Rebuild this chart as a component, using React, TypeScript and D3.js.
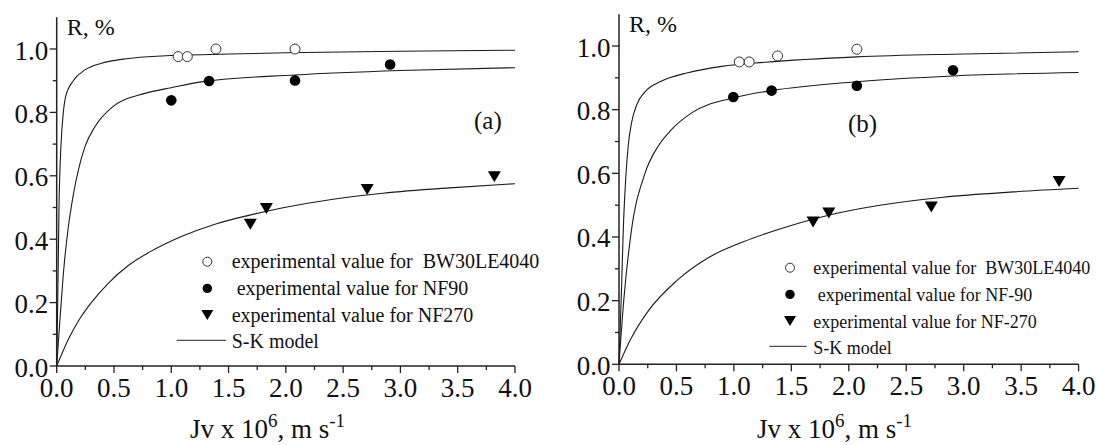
import React from "react";
import * as d3 from "d3";

// ---------- data ----------
const xMajorTicks = [0, 0.5, 1.0, 1.5, 2.0, 2.5, 3.0, 3.5, 4.0];
const xMinorTicks = [0.25, 0.75, 1.25, 1.75, 2.25, 2.75, 3.25, 3.75];
const xTickLabels = ["0.0", "0.5", "1.0", "1.5", "2.0", "2.5", "3.0", "3.5", "4.0"];
const yMajorTicks = [0, 0.2, 0.4, 0.6, 0.8, 1.0];
const yMinorTicks = [0.1, 0.3, 0.5, 0.7, 0.9];
const yTickLabels = ["0.0", "0.2", "0.4", "0.6", "0.8", "1.0"];

// Panel (a) experimental values
const bwA_x = [1.06, 1.14, 1.39, 2.08];
const bwA_y = [0.976, 0.976, 1.0, 1.0];
const nf90A_x = [1.0, 1.33, 2.08, 2.91];
const nf90A_y = [0.838, 0.899, 0.901, 0.951];
const nf270A_x = [1.69, 1.83, 2.71, 3.82];
const nf270A_y = [0.447, 0.497, 0.557, 0.597];

// Panel (a) S-K model curves
const skBwA_x = [0, 0.009, 0.02, 0.038, 0.058, 0.078, 0.145, 0.247, 0.39, 0.625, 0.916, 1.5, 2.0, 3.0, 4.0];
const skBwA_y = [0, 0.2, 0.5, 0.7, 0.8, 0.85, 0.9, 0.934, 0.955, 0.97, 0.978, 0.984, 0.988, 0.993, 0.996];
const sk90A_x = [0, 0.029, 0.058, 0.102, 0.145, 0.189, 0.247, 0.334, 0.48, 0.77, 1.0, 1.29, 2.08, 3.0, 4.0];
const sk90A_y = [0, 0.15, 0.29, 0.44, 0.54, 0.618, 0.692, 0.755, 0.815, 0.86, 0.878, 0.898, 0.918, 0.932, 0.941];
const sk270A_x = [0, 0.1, 0.2, 0.3, 0.45, 0.625, 0.813, 1.104, 1.395, 1.685, 1.976, 2.412, 2.848, 3.43, 4.0];
const sk270A_y = [0, 0.083, 0.148, 0.199, 0.261, 0.317, 0.36, 0.411, 0.449, 0.476, 0.499, 0.526, 0.545, 0.562, 0.575];

// Panel (b) experimental values
const bwB_x = [1.047, 1.133, 1.38, 2.07];
const bwB_y = [0.95, 0.95, 0.969, 0.99];
const nf90B_x = [0.995, 1.328, 2.07, 2.907];
const nf90B_y = [0.84, 0.86, 0.875, 0.924];
const nf270B_x = [1.689, 1.826, 2.718, 3.83];
const nf270B_y = [0.447, 0.475, 0.494, 0.574];

// Panel (b) S-K model curves
const skBwB_x = [0, 0.023, 0.038, 0.058, 0.081, 0.11, 0.154, 0.226, 0.371, 0.6, 0.894, 1.27, 2.07, 3.0, 4.0];
const skBwB_y = [0, 0.25, 0.43, 0.58, 0.69, 0.76, 0.815, 0.856, 0.89, 0.916, 0.936, 0.949, 0.966, 0.975, 0.982];
const sk90B_x = [0, 0.046, 0.104, 0.226, 0.342, 0.45, 0.632, 0.995, 1.328, 2.07, 2.907, 4.0];
const sk90B_y = [0, 0.22, 0.41, 0.6, 0.686, 0.735, 0.79, 0.837, 0.86, 0.888, 0.906, 0.917];
const sk270B_x = [0, 0.1, 0.255, 0.5, 0.792, 1.082, 1.372, 1.807, 2.243, 2.823, 3.4, 4.0];
const sk270B_y = [0, 0.078, 0.168, 0.262, 0.338, 0.385, 0.422, 0.467, 0.498, 0.525, 0.541, 0.553];

const legendA = ["experimental value for  BW30LE4040", " experimental value for NF90", "experimental value for NF270", "S-K model"];
const legendB = ["experimental value for  BW30LE4040", " experimental value for NF-90", "experimental value for NF-270", "S-K model"];

// ---------- drawing ----------
const FONT = "Liberation Serif, Times New Roman, DejaVu Serif, Noto Serif, serif";
const INK = "#111";

const zip = (xs: number[], ys: number[]) => xs.map((x, i) => [x, ys[i]] as [number, number]);

const tri = (w: number, h: number) => `M${-w / 2},${-h / 2}L${w / 2},${-h / 2}L0,${h / 2}Z`;

type PanelProps = {
  x0: number; x1: number; yb: number; yt: number;
  bw: [number, number][]; nf90: [number, number][]; nf270: [number, number][];
  curves: [number, number][][];
  legend: string[];
  legX: number; legTextX: number; legY: number; legFont: number; lineX0: number; lineX1: number;
  letter: string; letterX: number; letterY: number;
  titleX: number;
};

const tStyle = (size: number): React.CSSProperties => ({ fontFamily: FONT, fontSize: size, whiteSpace: "pre" });

function Panel(p: PanelProps) {
  const x = d3.scaleLinear().domain([0, 4]).range([p.x0, p.x1]);
  const y = d3.scaleLinear().domain([0, 1.1]).range([p.yb, p.yt]);
  const line = d3.line<[number, number]>().x(d => x(d[0])).y(d => y(d[1])).curve(d3.curveMonotoneX);
  const rowH = 26.7;
  return (
    <g>
      {p.curves.map((c, i) => (
        <path key={i} d={line(c) || ""} fill="none" stroke="#1a1a1a" strokeWidth={1.1} />
      ))}
      <line x1={p.x0} x2={p.x0} y1={y(1.1)} y2={y(0) + 0.5} stroke="#222" strokeWidth={1.5} />
      <line x1={p.x0 - 0.5} x2={x(4)} y1={y(0)} y2={y(0)} stroke="#222" strokeWidth={1.5} />
      {xMajorTicks.map((t, i) => (
        <g key={"xm" + i}>
          <line x1={x(t)} x2={x(t)} y1={y(0)} y2={y(0) + 7} stroke="#222" strokeWidth={1.3} />
          <text x={x(t)} y={y(0) + 31} textAnchor="middle" style={tStyle(27)} fill={INK}>{xTickLabels[i]}</text>
        </g>
      ))}
      {xMinorTicks.map((t, i) => (
        <line key={"xn" + i} x1={x(t)} x2={x(t)} y1={y(0)} y2={y(0) + 4} stroke="#222" strokeWidth={1.3} />
      ))}
      {yMajorTicks.map((t, i) => (
        <g key={"ym" + i}>
          <line x1={p.x0 - 7} x2={p.x0} y1={y(t)} y2={y(t)} stroke="#222" strokeWidth={1.3} />
          <text x={p.x0 - 8.5} y={y(t) + 10.5} textAnchor="end" style={tStyle(27)} fill={INK}>{yTickLabels[i]}</text>
        </g>
      ))}
      {yMinorTicks.map((t, i) => (
        <line key={"yn" + i} x1={p.x0 - 4} x2={p.x0} y1={y(t)} y2={y(t)} stroke="#222" strokeWidth={1.3} />
      ))}
      <text x={p.x0 + 10} y={y(1.1) + 18} style={tStyle(24)} fill={INK}>R, %</text>
      <text x={p.titleX} y={438} style={tStyle(27)} fill={INK}>
        Jv x 10<tspan dy={-11} style={{ fontSize: 19 }}>6</tspan><tspan dy={11}>, m s</tspan><tspan dy={-11} style={{ fontSize: 19 }}>-1</tspan>
      </text>
      <text x={p.letterX} y={p.letterY} style={tStyle(25)} fill={INK}>{p.letter}</text>
      {p.bw.map((d, i) => (
        <circle key={"bw" + i} cx={x(d[0])} cy={y(d[1])} r={5} fill="#fff" stroke="#333" strokeWidth={1} />
      ))}
      {p.nf90.map((d, i) => (
        <circle key={"n9" + i} cx={x(d[0])} cy={y(d[1])} r={5.3} fill="#000" />
      ))}
      {p.nf270.map((d, i) => (
        <path key={"n2" + i} d={tri(13, 11)} transform={`translate(${x(d[0])},${y(d[1])})`} fill="#000" />
      ))}
      <circle cx={p.legX} cy={p.legY} r={4.5} fill="#fff" stroke="#333" strokeWidth={1} />
      <circle cx={p.legX} cy={p.legY + rowH} r={4.7} fill="#000" />
      <path d={tri(12, 10)} transform={`translate(${p.legX},${p.legY + 2 * rowH})`} fill="#000" />
      <line x1={p.lineX0} x2={p.lineX1} y1={p.legY + 3 * rowH - 1.5} y2={p.legY + 3 * rowH - 1.5} stroke="#222" strokeWidth={1} />
      {p.legend.map((s, i) => (
        <text key={"lg" + i} x={p.legTextX} y={p.legY + i * rowH + 6.5} style={tStyle(p.legFont)} fill={INK}>{s}</text>
      ))}
    </g>
  );
}

export default function App() {
  return (
    <svg width={1096} height={445} style={{ position: "absolute", left: 0, top: 0, background: "#fff" }}>
      <rect width={1096} height={445} fill="#fff" />
      <Panel
        x0={56.7} x1={515} yb={366} yt={17.3}
        bw={zip(bwA_x, bwA_y)} nf90={zip(nf90A_x, nf90A_y)} nf270={zip(nf270A_x, nf270A_y)}
        curves={[zip(skBwA_x, skBwA_y), zip(sk90A_x, sk90A_y), zip(sk270A_x, sk270A_y)]}
        legend={legendA}
        legX={207.3} legTextX={231.7} legY={261.7} legFont={20} lineX0={176.7} lineX1={226}
        letter="(a)" letterX={474} letterY={129}
        titleX={190}
      />
      <Panel
        x0={619} x1={1078.6} yb={364.3} yt={14.2}
        bw={zip(bwB_x, bwB_y)} nf90={zip(nf90B_x, nf90B_y)} nf270={zip(nf270B_x, nf270B_y)}
        curves={[zip(skBwB_x, skBwB_y), zip(sk90B_x, sk90B_y), zip(sk270B_x, sk270B_y)]}
        legend={legendB}
        legX={790} legTextX={813.3} legY={267.7} legFont={18} lineX0={769.3} lineX1={806.7}
        letter="(b)" letterX={848} letterY={132}
        titleX={757}
      />
    </svg>
  );
}
